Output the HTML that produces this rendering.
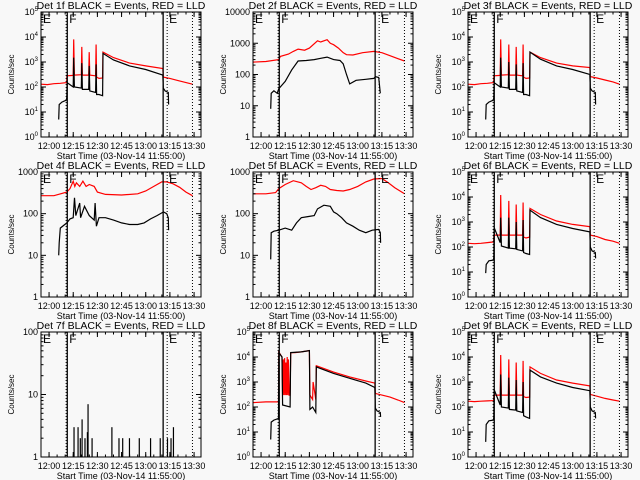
<!DOCTYPE html>
<html><head><meta charset="utf-8"><style>
html,body{margin:0;padding:0;background:#f8f8f8;}
svg{display:block;font-family:"Liberation Sans",sans-serif;}
</style></head><body>
<svg id="c" width="640" height="480" viewBox="0 0 640 480"></svg>
<script>
// x data in minutes since 11:55:00
const xTickLabels = ["12:00","12:15","12:30","12:45","13:00","13:15","13:30"];
const xTickMinutes = [5,20,35,50,65,80,95];
const panelTitles = ["Det 1f BLACK = Events, RED = LLD","Det 2f BLACK = Events, RED = LLD","Det 3f BLACK = Events, RED = LLD","Det 4f BLACK = Events, RED = LLD","Det 5f BLACK = Events, RED = LLD","Det 6f BLACK = Events, RED = LLD","Det 7f BLACK = Events, RED = LLD","Det 8f BLACK = Events, RED = LLD","Det 9f BLACK = Events, RED = LLD"];
const panelDecades = [5,4,5,3,3,5,2,5,5];
const panelSupLabels = [true,false,true,false,false,true,false,true,true];
const markerSolid = [16.3,75.8];
const markerDotted = [78.3,94];

// flare-style panels (1,3,6,9)
const flareRedT = [0,4,8,12,15.9,16.1,20,20.3,20.7,25,25.3,25.7,29.6,29.9,30.3,33.9,34.2,34.5,36,38.2,38.5,45,55,65,75.6,75.9,80,85,90,94];
const p1RedV = [130,125,135,140,150,280,290,8000,300,310,4000,300,300,2500,300,280,5000,250,220,230,2500,1500,900,700,550,250,220,180,150,130];
const p3RedV = [130,125,135,140,150,280,290,8000,300,310,5000,300,300,4000,300,280,5000,250,220,230,2500,1500,900,700,600,260,230,190,160,130];
const p6RedV = [140,135,140,150,160,300,300,12000,300,300,7000,300,300,5000,300,300,6000,250,230,250,3500,2000,1100,800,650,300,260,200,170,140];
const p9RedV = [170,165,170,175,180,300,300,12000,300,300,8000,300,300,6000,300,300,7000,260,240,250,4000,2200,1200,900,700,320,270,220,190,170];
const flareBlackT = [11,11.3,13,15.8,16,16.2,20,20.3,20.7,25,25.3,25.7,29.6,29.9,30.3,33.9,34.2,34.5,36,38.2,38.5,45,55,65,75.6,75.9,77,79,79.2];
const p1BlackV = [5,20,25,30,40,150,100,1500,100,90,900,80,80,700,70,60,800,50,50,45,2200,1200,700,500,300,90,70,60,20];
const p3BlackV = [5,20,25,30,40,150,100,1500,100,90,1000,80,80,800,70,60,900,50,50,45,2500,1300,700,500,320,90,70,60,20];
const p6BlackV = [9,20,28,30,40,600,150,1500,110,90,1500,90,85,1000,80,70,1200,60,55,50,3000,1500,800,550,400,100,70,60,35];
const p9BlackV = [4,20,28,30,40,500,120,2000,100,90,1500,80,75,1200,70,60,1000,45,40,35,3000,1600,900,600,450,100,70,60,35];

// panel 2
const p2RedT = [0,8,16,17,22,25,28,32,35,40,42,46,48,50,53,56,58,62,68,75,80,85,90,94];
const p2RedV = [250,260,300,380,450,550,650,600,700,1200,1100,1300,1000,900,700,500,430,420,500,550,500,400,320,270];
const p2BlackT = [11,11.3,13,15,16,17,20,24,28,33,38,42,46,50,54,56,58,60,64,70,75,76,78,79];
const p2BlackV = [8,25,30,25,35,40,60,140,270,280,300,330,360,300,280,220,100,50,65,70,75,85,80,25];

// panel 4
const p4RedT = [0,8,16,18,20,21,22,24,26,28,30,33,35,40,50,60,65,70,75,78,82,86,90,94];
const p4RedV = [270,270,330,400,600,450,550,450,600,450,500,450,330,290,280,300,350,450,580,580,520,430,330,270];
const p4BlackT = [11,11.3,12,16,18,20,20.8,21.6,24,24.6,27,30,33,33.6,34.4,36,40,45,50,55,60,64,68,72,76,78,79,79.2];
const p4BlackV = [10,20,45,60,75,80,240,90,180,80,150,90,70,180,50,80,80,70,60,55,55,60,75,90,110,100,80,40];

// panel 5
const p5RedT = [0,8,14,16,20,25,30,33,36,39,42,45,48,52,56,60,65,70,75,80,84,88,94];
const p5RedV = [300,300,320,400,500,620,550,450,380,420,480,450,380,360,350,380,450,580,680,700,550,420,300];
const p5BlackT = [11,11.3,13,16,20,24,27,30,34,38,40,44,48,50,52,55,58,62,66,70,74,78,79,79.2];
const p5BlackV = [8,35,38,40,45,40,60,80,85,90,130,160,150,110,100,80,60,50,40,35,40,42,35,20];

// panel 7 (event spikes)
const p7SpikeT = [20.5,23,24.4,25.5,27.3,28.8,29.2,31.7,44,48.4,50.7,54.9,61,68,74,78.5,80.7,82.2];
const p7SpikeV = [3,3,2,4,2,2.5,7,2,3,2,2,2,2,2,2,2,2,3];

// panel 8
const p8RedT = [0,8,15.8,16,18,18.4,18.8,19.2,19.6,20,20.4,20.8,21.2,21.6,22,22.4,23,23.4,26,30,35,35.3,37,37.3,39,39.3,50,60,70,75.6,75.9,80,85,90,94];
const p8RedV = [150,160,160,16000,10000,300,8000,300,9000,300,6000,300,10000,300,8000,300,300,15000,15000,16000,18000,300,200,1000,200,4500,2500,1600,1100,900,350,300,250,190,150];
const p8BlackT = [11,11.3,13,15.8,16,18,18.4,23,23.4,30,35,35.3,37,39,39.3,50,60,70,75.6,75.9,77,79,79.2];
const p8BlackV = [5,25,30,35,15000,10000,120,100,15000,16000,18000,80,100,60,4000,2200,1400,900,600,90,70,60,40];

const panelRed = [[flareRedT,p1RedV],[p2RedT,p2RedV],[flareRedT,p3RedV],[p4RedT,p4RedV],[p5RedT,p5RedV],[flareRedT,p6RedV],null,[p8RedT,p8RedV],[flareRedT,p9RedV]];
const panelBlack = [[flareBlackT,p1BlackV],[p2BlackT,p2BlackV],[flareBlackT,p3BlackV],[p4BlackT,p4BlackV],[p5BlackT,p5BlackV],[flareBlackT,p6BlackV],null,[p8BlackT,p8BlackV],[flareBlackT,p9BlackV]];

const NS="http://www.w3.org/2000/svg";
const svg=document.getElementById('c');
function mk(tag,attrs,parent){const e=document.createElementNS(NS,tag);for(const k in attrs)e.setAttribute(k,attrs[k]);(parent||svg).appendChild(e);return e;}
const colX=[41,253,468], rowY=[12,172,332], W=160, H=125, XMAX=99.3;

for(let p=0;p<9;p++){
  const x0=colX[p%3], y0=rowY[Math.floor(p/3)], dec=panelDecades[p];
  const g=mk('g',{});
  
  
  const sx=m=>x0+m/XMAX*W;
  const sy=v=>y0+H-Math.log10(Math.max(v,1))/dec*H;
  const t=mk('text',{x:x0+W/2,y:y0-3,'text-anchor':'middle','font-size':'10.5'},g);
  t.textContent=panelTitles[p];
  
  
  function line(T,V,color,name){
    let d='';
    for(let i=0;i<T.length;i++){
      d+=(i===0?'M':'L')+sx(T[i]).toFixed(1)+' '+sy(V[i]).toFixed(1);
    }
    const e=mk('path',{d:d,fill:'none',stroke:color,'stroke-width':'1.2'},g);
    
    
  }
  if(panelRed[p]) line(panelRed[p][0],panelRed[p][1],'#ff0000','lld-series');
  if(panelBlack[p]) line(panelBlack[p][0],panelBlack[p][1],'#000','events-series');
  if(p===6){
    for(let i=0;i<p7SpikeT.length;i++){
      const e=mk('line',{x1:sx(p7SpikeT[i]),x2:sx(p7SpikeT[i]),y1:sy(1),y2:sy(p7SpikeV[i]),stroke:'#000','stroke-width':'1.2'},g);
      
      
    }
  }
  markerSolid.forEach(m=>{const e=mk('line',{x1:sx(m),x2:sx(m),y1:y0,y2:y0+H,stroke:'#000','stroke-width':'1.3'},g);
    });
  [15.6].concat(markerDotted).forEach(m=>{const e=mk('line',{x1:sx(m),x2:sx(m),y1:y0,y2:y0+H,stroke:'#000','stroke-width':'1','stroke-dasharray':'1,2'},g);
    });
  [['E',x0+2],['F',sx(16.3)+2],['E',sx(78.3)+2]].forEach(a=>{const e=mk('text',{x:a[1],y:y0+11,'font-size':'12'},g);e.textContent=a[0];
    });
  const fr=mk('rect',{x:x0,y:y0,width:W,height:H,fill:'none',stroke:'#000','stroke-width':'1'},g);
  
  xTickMinutes.forEach((m,i)=>{
    const X=sx(m);
    mk('line',{x1:X,x2:X,y1:y0+H,y2:y0+H-5,stroke:'#000'},g);
    mk('line',{x1:X,x2:X,y1:y0,y2:y0+5,stroke:'#000'},g);
    const e=mk('text',{x:X,y:y0+H+12,'text-anchor':'middle','font-size':'9'},g);
    e.textContent=xTickLabels[i];
    
  });
  for(let m=0;m<XMAX;m+=5){const X=sx(m);mk('line',{x1:X,x2:X,y1:y0+H,y2:y0+H-2.5,stroke:'#000'},g);mk('line',{x1:X,x2:X,y1:y0,y2:y0+2.5,stroke:'#000'},g);}
  const xt=mk('text',{x:x0+W/2,y:y0+H+22,'text-anchor':'middle','font-size':'9'},g);
  xt.textContent='Start Time (03-Nov-14 11:55:00)';
  
  for(let k=0;k<=dec;k++){
    const Y=y0+H-k/dec*H;
    mk('line',{x1:x0,x2:x0+5,y1:Y,y2:Y,stroke:'#000'},g);
    mk('line',{x1:x0+W,x2:x0+W-5,y1:Y,y2:Y,stroke:'#000'},g);
    if(k<dec) for(let j=2;j<10;j++){const yy=Y-Math.log10(j)/dec*H;mk('line',{x1:x0,x2:x0+2.5,y1:yy,y2:yy,stroke:'#000'},g);mk('line',{x1:x0+W,x2:x0+W-2.5,y1:yy,y2:yy,stroke:'#000'},g);}
    const e=mk('text',{x:x0-3,y:Y+3,'text-anchor':'end','font-size':'9'},g);
    if(panelSupLabels[p]){e.textContent='10';const s=mk('tspan',{dy:'-4','font-size':'6'},e);s.textContent=String(k);}
    else e.textContent=String(Math.pow(10,k));
    
  }
  const yt=mk('text',{x:0,y:0,'text-anchor':'middle','font-size':'8',transform:'translate('+(x0-27)+','+(y0+H/2)+') rotate(-90)'},g);
  yt.textContent='Counts/sec';
  
}
</script>
</body></html>
